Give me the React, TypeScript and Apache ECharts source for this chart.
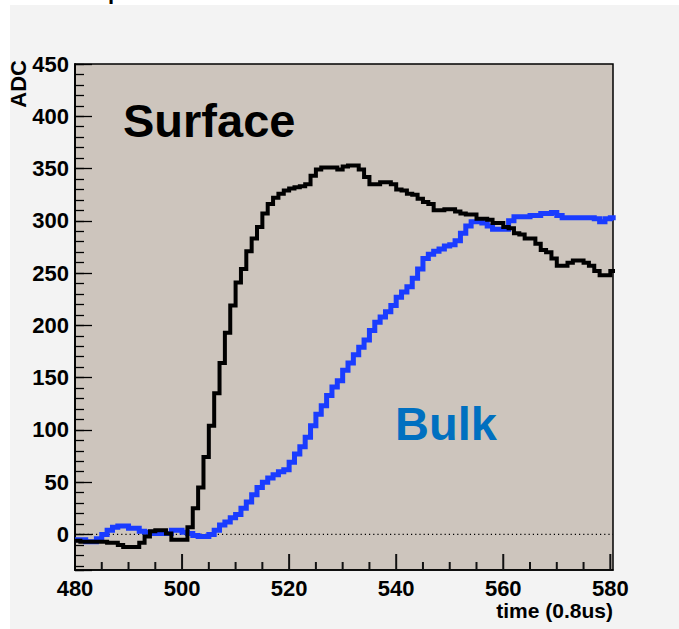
import React, { useEffect, useRef } from "react";
import * as echarts from "echarts";

// Histogram bins: one bin per time sample, first bin starts at 480
const FIRST_BIN = 480;
const X_MIN = 480;
const X_MAX = 580.5;
const Y_MIN = -34;
const Y_MAX = 450;
const X_MAJOR = 20;
const X_MINOR = 5;

// ADC counts per bin for the surface event (480 ... 580)
const surfaceADC = [
  -6, -7, -7, -7, -7, -7, -8, -8, -10, -12,
  -12, -12, -8, -2, 3, 4, 4, 1, -5, -5,
  -5, 7, 25, 45, 74, 104, 135, 164, 193, 219,
  241, 254, 271, 283, 294, 307, 316, 322, 326, 329,
  331, 332, 333, 335, 343, 349, 351, 351, 351, 349,
  352, 353, 353, 349, 342, 335, 335, 337, 337, 335,
  330, 329, 326, 325, 321, 318, 316, 310, 310, 311,
  311, 309, 307, 306, 306, 302, 302, 301, 298, 298,
  294, 293, 288, 287, 283, 283, 278, 272, 270, 264,
  257, 257, 260, 262, 262, 260, 257, 252, 248, 248,
  252,
];

// ADC counts per bin for the bulk event (480 ... 580)
const bulkADC = [
  -5, -5, -7, -7, -4, 0, 4, 7, 8, 8,
  6, 6, 3, 2, 1, 1, 1, 1, 4, 4,
  2, 1, -1, -2, -2, 0, 4, 9, 12, 16,
  19, 25, 31, 38, 45, 50, 54, 57, 60, 62,
  69, 77, 84, 93, 104, 115, 123, 133, 141, 147,
  157, 164, 172, 179, 186, 195, 203, 208, 213, 219,
  227, 232, 237, 245, 254, 264, 268, 271, 273, 276,
  277, 281, 288, 295, 299, 299, 298, 295, 292, 292,
  292, 300, 304, 304, 304, 305, 305, 307, 307, 308,
  305, 303, 303, 303, 303, 303, 303, 302, 299, 302,
  303,
];

const FONT = "'Liberation Sans', Arial, Helvetica, sans-serif";

// Turn bin contents into step points: left edge of every bin plus the right edge of the last
function histPoints(values: number[]): number[][] {
  const pts = values.map((v, i) => [FIRST_BIN + i, v]);
  pts.push([FIRST_BIN + values.length, values[values.length - 1]]);
  return pts;
}

// Positions of the time-axis tick marks (every 5, longer every 20)
const xTickValues: number[] = [];
for (let t = X_MIN + X_MINOR; t <= X_MAX; t += X_MINOR) xTickValues.push(t);

const tickLine = { color: "#000", width: 1.3 };
const axisLineStyle = () => ({ show: true, onZero: false, lineStyle: { color: "#000", width: 1.5 } });

export default function App() {
  const ref = useRef<HTMLDivElement>(null);

  useEffect(() => {
    if (!ref.current) return;
    const chart = echarts.init(ref.current, null, { renderer: "svg" });

    const option: any = {
      animation: false,
      grid: {
        left: 75,
        top: 64,
        width: 538,
        height: 506,
        show: true,
        backgroundColor: "#cdc5bd",
        borderColor: "#000",
        borderWidth: 1.5,
      },
      xAxis: {
        type: "value",
        min: X_MIN,
        max: X_MAX,
        interval: X_MAJOR,
        position: "bottom",
        axisLine: axisLineStyle(),
        splitLine: { show: false },
        axisTick: { show: false },
        axisLabel: {
          margin: 7,
          color: "#000",
          fontWeight: "bold",
          fontSize: 22,
          fontFamily: FONT,
          formatter: (v: number) => (v % X_MAJOR === 0 ? String(v) : ""),
        },
      },
      yAxis: [
        {
          type: "value",
          min: Y_MIN,
          max: Y_MAX,
          splitNumber: 10,
          position: "left",
          axisLine: axisLineStyle(),
          splitLine: { show: false },
          axisTick: { inside: true, length: 17, lineStyle: tickLine },
          axisLabel: {
            margin: 6,
            color: "#000",
            fontWeight: "bold",
            fontSize: 22,
            fontFamily: FONT,
            formatter: (v: number) => (v % 50 === 0 ? String(v) : ""),
          },
        },
        {
          type: "value",
          min: Y_MIN,
          max: Y_MAX,
          splitNumber: 48,
          position: "left",
          axisLine: axisLineStyle(),
          splitLine: { show: false },
          axisTick: { inside: true, length: 9, lineStyle: tickLine },
          axisLabel: { show: false },
        },
      ],
      series: [
        {
          name: "zero",
          type: "line",
          data: [
            [X_MIN, 0],
            [X_MAX, 0],
          ],
          symbol: "none",
          silent: true,
          z: 1,
          lineStyle: { color: "#000", width: 1.2, type: [1.2, 3] },
        },
        {
          name: "Bulk",
          type: "line",
          step: "end",
          data: histPoints(bulkADC),
          symbol: "none",
          z: 3,
          lineStyle: { color: "#1a3cff", width: 5, join: "miter", cap: "butt" },
        },
        {
          name: "Surface",
          type: "line",
          step: "end",
          data: histPoints(surfaceADC),
          symbol: "none",
          z: 4,
          lineStyle: { color: "#000000", width: 4, join: "miter", cap: "butt" },
        },
        {
          name: "time ticks",
          type: "custom",
          silent: true,
          clip: false,
          z: 6,
          data: xTickValues.map((t) => [t, Y_MIN]),
          renderItem: (_params: any, api: any) => {
            const t = api.value(0);
            const p = api.coord([t, Y_MIN]);
            const len = t % X_MAJOR === 0 ? 16 : 8;
            return {
              type: "line",
              shape: { x1: p[0], y1: p[1], x2: p[0], y2: p[1] - len },
              style: { stroke: "#111111", lineWidth: 2 },
            };
          },
        },
      ],
      graphic: [
        {
          type: "text",
          x: 108,
          y: -9,
          z: 100,
          style: { text: "p", fill: "#000", font: `bold 22px ${FONT}`, verticalAlign: "middle" },
        },
        {
          type: "text",
          x: 123,
          y: 120,
          z: 100,
          style: { text: "Surface", fill: "#000", font: `bold 47px ${FONT}`, verticalAlign: "middle" },
        },
        {
          type: "text",
          x: 395,
          y: 423,
          z: 100,
          style: { text: "Bulk", fill: "#0070c0", font: `bold 47px ${FONT}`, verticalAlign: "middle" },
        },
        {
          type: "text",
          x: 18,
          y: 60,
          rotation: Math.PI / 2,
          z: 100,
          style: { text: "ADC", fill: "#000", font: `bold 22px ${FONT}`, align: "right", verticalAlign: "middle" },
        },
        {
          type: "text",
          x: 613,
          y: 610,
          z: 100,
          style: { text: "time (0.8us)", fill: "#000", font: `bold 21px ${FONT}`, align: "right", verticalAlign: "middle" },
        },
      ],
    };

    chart.setOption(option);
    return () => chart.dispose();
  }, []);

  return (
    <div style={{ position: "absolute", left: 0, top: 0, width: 679, height: 629, background: "#ffffff" }}>
      <div style={{ position: "absolute", left: 10, top: 5, width: 669, height: 624, background: "#f3f3f3" }} />
      <div ref={ref} style={{ position: "absolute", left: 0, top: 0, width: 679, height: 629 }} />
    </div>
  );
}
